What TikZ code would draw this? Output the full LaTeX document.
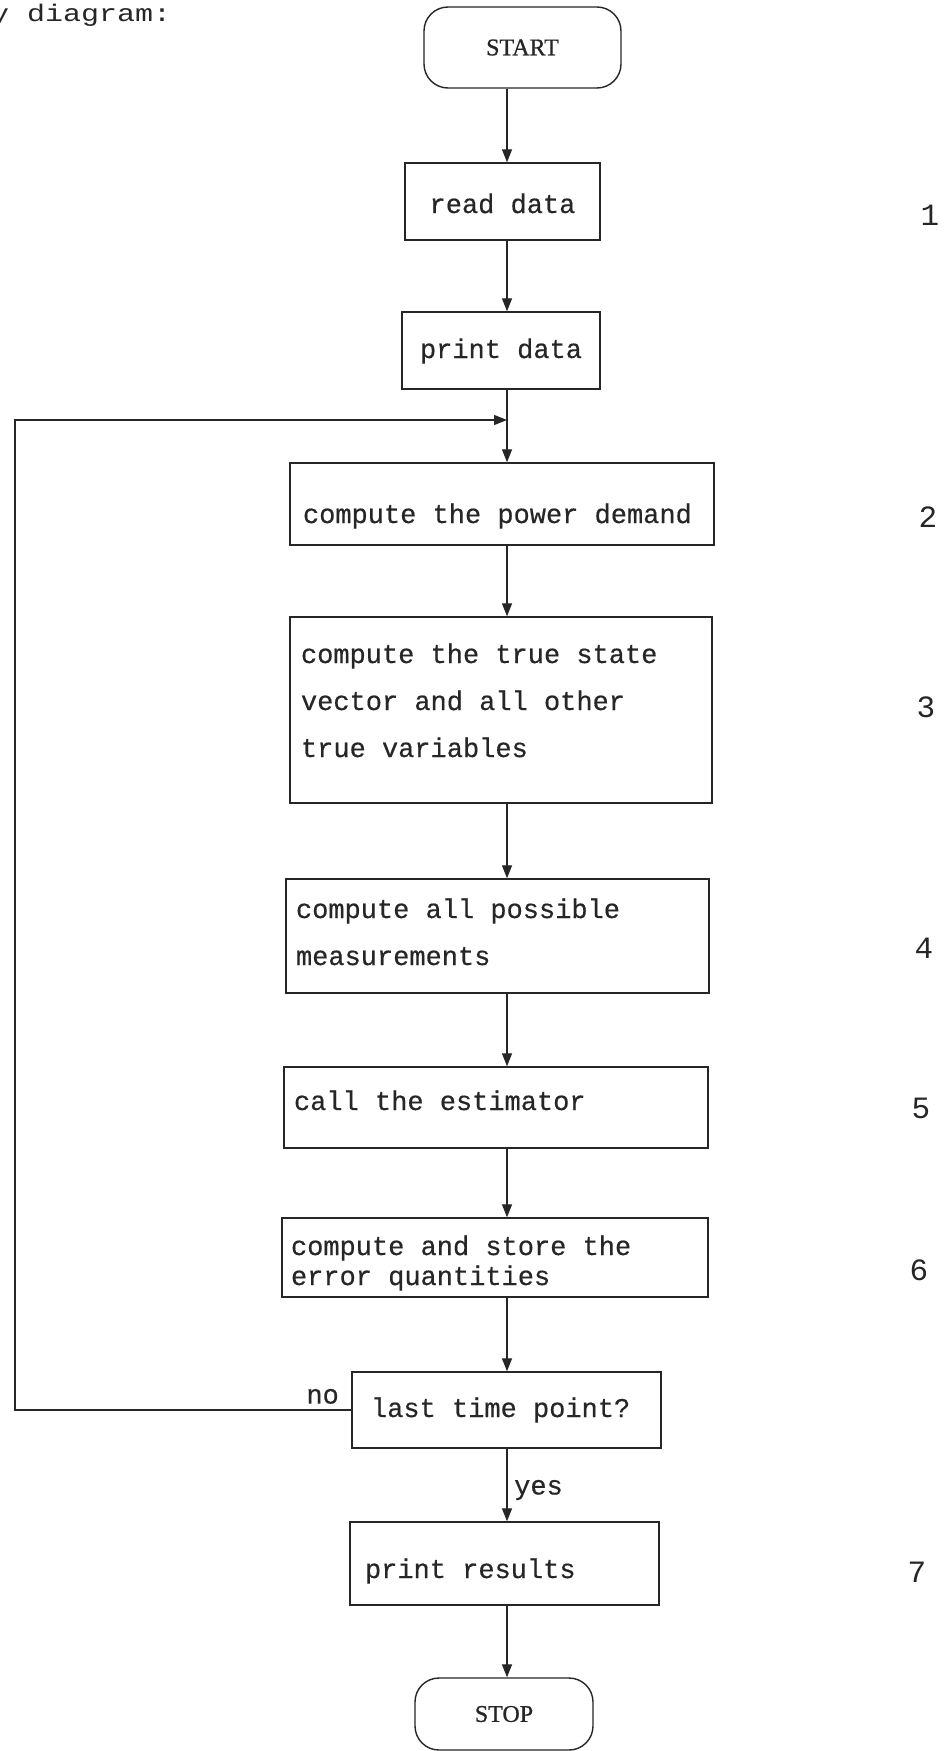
\documentclass[tikz,border=0pt]{standalone}
\usepackage{fontspec}
\usetikzlibrary{arrows.meta}
\newfontfamily\tw[FakeBold=0.4]{Liberation Mono}
\newfontfamily\cour{Liberation Mono}
\newfontfamily\hdrf[FakeStretch=1.25]{Liberation Mono}
\newfontfamily\termf[FakeBold=0.8]{Liberation Serif}
\definecolor{ink}{gray}{0.15}
\newcommand{\lft}[2]{\makebox[#1pt][l]{#2}}
\tikzset{
  box/.style={draw=ink, line width=1.4pt, rectangle, align=left, inner xsep=0pt, inner ysep=0pt,
    text=ink, font=\tw\fontsize{27}{47}\selectfont},
  term/.style={draw=ink, line width=1.4pt, rectangle, rounded corners=24pt, text=ink,
    font=\termf\fontsize{24}{28}\selectfont},
  flow/.style={draw=ink, line width=1.3pt, -{Triangle[length=13pt,width=10pt]}},
  lab/.style={text=ink, font=\tw\fontsize{27}{30}\selectfont, inner sep=0pt},
  num/.style={text=ink, font=\cour\fontsize{31}{34}\selectfont, inner sep=0pt}
}
\begin{document}
\begin{tikzpicture}[x=1pt,y=-1pt]
\useasboundingbox (0,0) rectangle (946,1751);
\fill[white] (0,0) rectangle (946,1751);

\node[anchor=base west, text=ink, font=\hdrf\fontsize{24}{28}\selectfont, inner sep=0pt] (hdr) at (-9,21) {y diagram:};

\coordinate (spine) at (507,0);

\node[term, minimum width=197pt, minimum height=81pt] (start) at (522.5,47.5) {START};
\node[box, minimum width=195pt, minimum height=77pt, text height=29pt, text depth=6pt] (read) at (502.5,201.5) {read data};
\node[box, minimum width=198pt, minimum height=77pt, text height=21pt, text depth=6pt] (pdata) at (501,350.5) {print data};
\node[box, minimum width=424pt, minimum height=82pt, text height=44pt, text depth=6pt] (power) at (502,504)
  {\lft{398}{compute the power demand}};
\node[box, minimum width=422pt, minimum height=186pt, text height=114pt, text depth=20pt] (state) at (501,710)
  {\lft{400}{compute the true state}\\\lft{400}{vector and all other}\\\lft{400}{true variables}};
\node[box, minimum width=423pt, minimum height=114pt, text height=67pt, text depth=9pt] (meas) at (497.5,936)
  {\lft{403}{compute all possible}\\\lft{403}{measurements}};
\node[box, minimum width=424pt, minimum height=81pt, text height=11pt, text depth=6pt] (est) at (496,1107.5)
  {\lft{404}{call the estimator}};
\node[box, minimum width=426pt, minimum height=79pt, font=\tw\fontsize{27}{30}\selectfont, text height=55pt, text depth=0pt] (err) at (495,1257.5)
  {\lft{408}{compute and store the}\\\lft{408}{error quantities}};
\node[box, minimum width=309pt, minimum height=76pt, text height=20pt, text depth=6pt] (dec) at (506.5,1410)
  {\lft{271}{last time point?}};
\node[box, minimum width=309pt, minimum height=83pt, text height=35pt, text depth=6pt] (res) at (504.5,1563.5)
  {\lft{279}{print results}};
\node[term, minimum width=178pt, minimum height=72pt] (stop) at (504,1714) {STOP};

% numbers
\node[num] (n1) at (930,215) {1};
\node[num] (n2) at (928,517) {2};
\node[num] (n3) at (926,707) {3};
\node[num] (n4) at (924,948) {4};
\node[num] (n5) at (921,1108) {5};
\node[num] (n6) at (919,1270) {6};
\node[num] (n7) at (917,1572) {7};

% main flow
\draw[flow] (start.south -| spine) -- (read.north -| spine);
\draw[flow] (read.south -| spine) -- (pdata.north -| spine);
\draw[flow] (pdata.south -| spine) -- (power.north -| spine);
\draw[flow] (power.south -| spine) -- (state.north -| spine);
\draw[flow] (state.south -| spine) -- (meas.north -| spine);
\draw[flow] (meas.south -| spine) -- (est.north -| spine);
\draw[flow] (est.south -| spine) -- (err.north -| spine);
\draw[flow] (err.south -| spine) -- (dec.north -| spine);
\draw[flow] (dec.south -| spine) -- (res.north -| spine);
\draw[flow] (res.south -| spine) -- (stop.north -| spine);

% loop back
\coordinate (lt) at (15,420);
\coordinate (join) at (507,420);
\draw[flow] (dec.west) -| (lt) -- (join);

\node[lab, anchor=south east] (no) at (339,1404) {no};
\node[lab, anchor=west] (yes) at (514,1490) {yes};
\end{tikzpicture}
\end{document}
